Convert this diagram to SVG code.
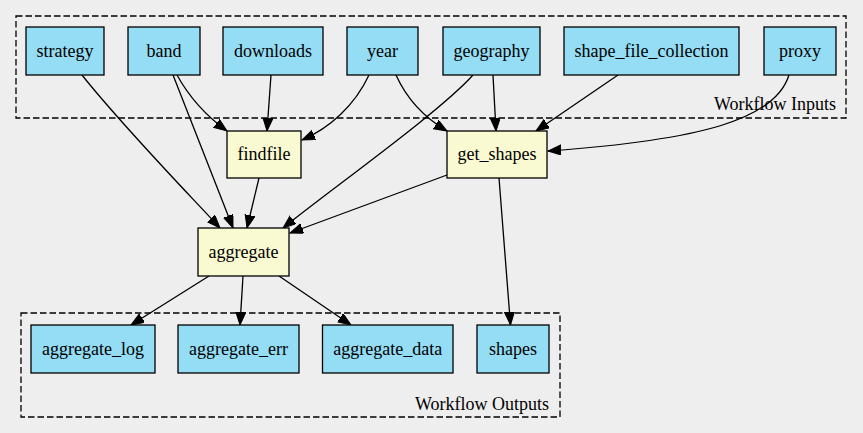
<svg xmlns="http://www.w3.org/2000/svg" width="863" height="433" viewBox="0 0 863 433">
<style>
.bg{fill:#eeeeee}
.cluster{fill:none;stroke:#000;stroke-width:1.3;stroke-dasharray:6.5,3}
.io{fill:#94ddf4;stroke:#000;stroke-width:1.3}
.step{fill:#fafad2;stroke:#000;stroke-width:1.3}
.edge{fill:none;stroke:#000;stroke-width:1.3;marker-end:url(#arr)}
</style>
<defs>
<marker id="arr" markerUnits="userSpaceOnUse" markerWidth="14" markerHeight="11" refX="13" refY="5" orient="auto">
<path d="M0,0 L13,5 L0,10 Z" fill="#000" stroke="#000" stroke-width="1"/>
</marker>
</defs>
<rect class="bg" x="0" y="0" width="863" height="433"/>
<g id="cluster_inputs">
<rect class="cluster" x="16" y="16" width="830" height="102"/>
<text x="836" y="110" text-anchor="end" font-family="Liberation Serif" font-size="18">Workflow Inputs</text>
</g>
<g id="cluster_outputs">
<rect class="cluster" x="21" y="313" width="539" height="104"/>
<text x="549" y="410" text-anchor="end" font-family="Liberation Serif" font-size="18">Workflow Outputs</text>
</g>
<g id="edges">
<path class="edge" d="M82,75 C120,123 180,185 220,228"/>
<path class="edge" d="M173,75 L233,228"/>
<path class="edge" d="M177,75 C188,95 205,115 227,131"/>
<path class="edge" d="M271,75 L267,131"/>
<path class="edge" d="M369,75 C355,105 330,128 302,140"/>
<path class="edge" d="M396,75 C405,95 420,115 447,131"/>
<path class="edge" d="M473,75 C440,112 330,190 283,228"/>
<path class="edge" d="M493,75 L496,131"/>
<path class="edge" d="M618,75 L536,131"/>
<path class="edge" d="M789,75 C775,120 700,140 548,151"/>
<path class="edge" d="M259,178 L247,228"/>
<path class="edge" d="M447,175 L290,233"/>
<path class="edge" d="M209,276 L131,325"/>
<path class="edge" d="M243,276 L240,325"/>
<path class="edge" d="M279,276 L351,325"/>
<path class="edge" d="M499,178 L510.5,325"/>
</g>
<g id="strategy"><rect class="io" x="26" y="27" width="78" height="48"/><text x="65" y="57" text-anchor="middle" font-family="Liberation Serif" font-size="18">strategy</text></g>
<g id="band"><rect class="io" x="128" y="27" width="72" height="48"/><text x="164" y="57" text-anchor="middle" font-family="Liberation Serif" font-size="18">band</text></g>
<g id="downloads"><rect class="io" x="223" y="27" width="100" height="48"/><text x="273" y="57" text-anchor="middle" font-family="Liberation Serif" font-size="18">downloads</text></g>
<g id="year"><rect class="io" x="347" y="27" width="71" height="48"/><text x="382.5" y="57" text-anchor="middle" font-family="Liberation Serif" font-size="18">year</text></g>
<g id="geography"><rect class="io" x="443" y="27" width="97" height="48"/><text x="491.5" y="57" text-anchor="middle" font-family="Liberation Serif" font-size="18">geography</text></g>
<g id="shape_file_collection"><rect class="io" x="564" y="27" width="175" height="48"/><text x="651.5" y="57" text-anchor="middle" font-family="Liberation Serif" font-size="18">shape_file_collection</text></g>
<g id="proxy"><rect class="io" x="764" y="27" width="72" height="48"/><text x="800" y="57" text-anchor="middle" font-family="Liberation Serif" font-size="18">proxy</text></g>
<g id="findfile"><rect class="step" x="227" y="131" width="74" height="47"/><text x="264" y="160" text-anchor="middle" font-family="Liberation Serif" font-size="18">findfile</text></g>
<g id="get_shapes"><rect class="step" x="447" y="131" width="100" height="47"/><text x="497" y="160" text-anchor="middle" font-family="Liberation Serif" font-size="18">get_shapes</text></g>
<g id="aggregate"><rect class="step" x="198" y="228" width="91" height="48"/><text x="243.5" y="258" text-anchor="middle" font-family="Liberation Serif" font-size="18">aggregate</text></g>
<g id="aggregate_log"><rect class="io" x="31" y="325" width="124" height="48"/><text x="93" y="355" text-anchor="middle" font-family="Liberation Serif" font-size="18">aggregate_log</text></g>
<g id="aggregate_err"><rect class="io" x="178" y="325" width="121" height="48"/><text x="238.5" y="355" text-anchor="middle" font-family="Liberation Serif" font-size="18">aggregate_err</text></g>
<g id="aggregate_data"><rect class="io" x="322.5" y="325" width="130.5" height="48"/><text x="387.75" y="355" text-anchor="middle" font-family="Liberation Serif" font-size="18">aggregate_data</text></g>
<g id="shapes"><rect class="io" x="477" y="325" width="72" height="48"/><text x="513" y="355" text-anchor="middle" font-family="Liberation Serif" font-size="18">shapes</text></g>
</svg>
